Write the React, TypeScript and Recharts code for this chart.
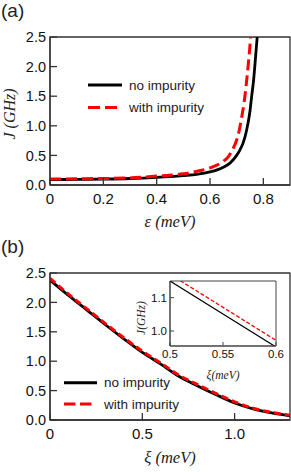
import React from 'react';
import { LineChart, Line, XAxis, YAxis, ReferenceArea, Legend } from 'recharts';

// Panel (a): J vs epsilon
const epsNoImp = [
  { x: 0, y: 0.09 }, { x: 0.1, y: 0.095 }, { x: 0.2, y: 0.1 }, { x: 0.3, y: 0.11 },
  { x: 0.4, y: 0.13 }, { x: 0.5, y: 0.16 }, { x: 0.55, y: 0.18 }, { x: 0.6, y: 0.22 },
  { x: 0.65, y: 0.3 }, { x: 0.675, y: 0.37 }, { x: 0.7, y: 0.5 }, { x: 0.712, y: 0.59 },
  { x: 0.725, y: 0.72 }, { x: 0.7375, y: 0.93 }, { x: 0.75, y: 1.25 }, { x: 0.756, y: 1.49 },
  { x: 0.763, y: 1.75 }, { x: 0.769, y: 2.06 }, { x: 0.777, y: 2.5 }, { x: 0.785, y: 3.0 },
];
const epsWithImp = [
  { x: 0, y: 0.1 }, { x: 0.1, y: 0.105 }, { x: 0.2, y: 0.11 }, { x: 0.3, y: 0.12 },
  { x: 0.4, y: 0.15 }, { x: 0.5, y: 0.19 }, { x: 0.55, y: 0.23 }, { x: 0.6, y: 0.29 },
  { x: 0.65, y: 0.4 }, { x: 0.669, y: 0.48 }, { x: 0.685, y: 0.6 }, { x: 0.7, y: 0.76 },
  { x: 0.71, y: 0.93 }, { x: 0.719, y: 1.15 }, { x: 0.728, y: 1.4 }, { x: 0.735, y: 1.66 },
  { x: 0.745, y: 2.11 }, { x: 0.7525, y: 2.5 }, { x: 0.76, y: 3.0 },
];

// Panel (b): J vs xi
const xiNoImp = [
  { x: 0, y: 2.38 }, { x: 0.1, y: 2.12 }, { x: 0.2, y: 1.87 }, { x: 0.3, y: 1.62 },
  { x: 0.4, y: 1.38 }, { x: 0.5, y: 1.15 }, { x: 0.6, y: 0.95 }, { x: 0.7, y: 0.74 },
  { x: 0.8, y: 0.58 }, { x: 0.9, y: 0.43 }, { x: 1.0, y: 0.29 }, { x: 1.1, y: 0.19 },
  { x: 1.2, y: 0.12 }, { x: 1.3, y: 0.07 },
];
const xiWithImp = [
  { x: 0, y: 2.41 }, { x: 0.1, y: 2.14 }, { x: 0.2, y: 1.89 }, { x: 0.3, y: 1.64 },
  { x: 0.4, y: 1.4 }, { x: 0.5, y: 1.17 }, { x: 0.6, y: 0.97 }, { x: 0.7, y: 0.76 },
  { x: 0.8, y: 0.6 }, { x: 0.9, y: 0.45 }, { x: 1.0, y: 0.31 }, { x: 1.1, y: 0.2 },
  { x: 1.2, y: 0.13 }, { x: 1.3, y: 0.08 },
];

// Inset of panel (b)
const insetNoImp = [{ x: 0.5, y: 1.15 }, { x: 0.6, y: 0.952 }];
const insetWithImp = [{ x: 0.5, y: 1.17 }, { x: 0.6, y: 0.972 }];

const ticksXA = [0, 0.2, 0.4, 0.6, 0.8];
const ticksXB = [0, 0.5, 1.0];
const ticksY = [0, 0.5, 1.0, 1.5, 2.0, 2.5];
const ticksXInset = [0.5, 0.55, 0.6];
const ticksYInset = [1.0, 1.1];

const seriesNames = ['no impurity', 'with impurity'];

const SANS = 'Liberation Sans, Arial, sans-serif';
const SERIF = 'Liberation Serif, Times New Roman, serif';
const AX = '#333';

const fmtX = (v: number) => (v === 0 ? '0' : v.toFixed(1));
const fmtY = (v: number) => v.toFixed(1);

function makeLegend(lineY1: number, lineY2: number, x1: number, x2Black: number, x2Red: number, dash: string, textX: number) {
  return () => (
    <svg width={160} height={50} style={{ display: 'block' }}>
      <line x1={x1} x2={x2Black} y1={lineY1} y2={lineY1} stroke="#000" strokeWidth={3} />
      <text x={textX} y={lineY1} dominantBaseline="central" fontFamily={SANS} fontSize={13.5} fill="#222">{seriesNames[0]}</text>
      <line x1={x1} x2={x2Red} y1={lineY2} y2={lineY2} stroke="#ff0000" strokeWidth={3} strokeDasharray={dash} />
      <text x={textX} y={lineY2} dominantBaseline="central" fontFamily={SANS} fontSize={13.5} fill="#222">{seriesNames[1]}</text>
    </svg>
  );
}

function xLabel(text: string, dy: number, size: number) {
  return (props: any) => {
    const vb = props.viewBox || {};
    return (
      <text x={vb.x + vb.width / 2} y={vb.y + dy} textAnchor="middle" fontFamily={SERIF} fontStyle="italic" fontSize={size} fill="#222">{text}</text>
    );
  };
}

function yLabel(text: string, x: number, cy: number, size: number) {
  return () => (
    <text x={x} y={cy} textAnchor="middle" transform={`rotate(-90, ${x}, ${cy})`} fontFamily={SERIF} fontStyle="italic" fontSize={size} fill="#222">{text}</text>
  );
}

export default function App() {
  return (
    <div style={{ position: 'absolute', left: 0, top: 0, width: 291, height: 472, background: '#fff', overflow: 'hidden' }}>
      <div style={{ position: 'absolute', left: 1, top: 0, fontFamily: SANS, fontSize: 19, color: '#222', lineHeight: '21px' }}>(a)</div>
      <div style={{ position: 'absolute', left: 1, top: 236, fontFamily: SANS, fontSize: 19, color: '#222', lineHeight: '21px' }}>(b)</div>

      {/* Panel (a) */}
      <div style={{ position: 'absolute', left: 0, top: 0 }}>
        <LineChart width={291} height={236} margin={{ top: 37, right: 1, bottom: 0, left: 0 }}>
          <XAxis dataKey="x" type="number" domain={[0, 0.9]} ticks={ticksXA} interval={0} tickFormatter={fmtX}
            height={51} tickSize={-7} tickMargin={15} axisLine={{ stroke: AX, strokeWidth: 1.3 }} tickLine={{ stroke: AX, strokeWidth: 1.3 }}
            tick={{ fontSize: 15, fontFamily: SANS, fill: '#111' }} allowDataOverflow
            label={{ content: xLabel('ε (meV)', 42, 16.5) }} />
          <YAxis type="number" domain={[0, 2.5]} ticks={ticksY} interval={0} tickFormatter={fmtY}
            width={50} tickSize={-7} tickMargin={11} axisLine={{ stroke: AX, strokeWidth: 1.3 }} tickLine={{ stroke: AX, strokeWidth: 1.3 }}
            tick={{ fontSize: 14.5, fontFamily: SANS, fill: '#111' }} allowDataOverflow
            label={{ content: yLabel('J (GHz)', 15, 114, 16) }} />
          <ReferenceArea x1={0} x2={0.9} y1={0} y2={2.5} fill="none" stroke={AX} strokeWidth={1.3} />
          <Line data={epsNoImp} dataKey="y" type="monotone" stroke="#000" strokeWidth={2.8} dot={false} isAnimationActive={false} />
          <Line data={epsWithImp} dataKey="y" type="monotone" stroke="#ff0000" strokeWidth={3} strokeDasharray="11 5" dot={false} isAnimationActive={false} />
          <Legend layout="vertical" align="center" verticalAlign="middle"
            wrapperStyle={{ left: 80, top: 70, width: 160, height: 50 }}
            content={makeLegend(15, 37.5, 8, 42, 37, '12 5', 49)} />
        </LineChart>
      </div>

      {/* Panel (b) */}
      <div style={{ position: 'absolute', left: 0, top: 236 }}>
        <LineChart width={291} height={236} margin={{ top: 37, right: 1, bottom: 0, left: 0 }}>
          <XAxis dataKey="x" type="number" domain={[0, 1.3]} ticks={ticksXB} interval={0} tickFormatter={fmtX}
            height={52} tickSize={-7} tickMargin={15} axisLine={{ stroke: AX, strokeWidth: 1.3 }} tickLine={{ stroke: AX, strokeWidth: 1.3 }}
            tick={{ fontSize: 15, fontFamily: SANS, fill: '#111' }} allowDataOverflow
            label={{ content: xLabel('ξ (meV)', 43, 16.5) }} />
          <YAxis type="number" domain={[0, 2.5]} ticks={ticksY} interval={0} tickFormatter={fmtY}
            width={50} tickSize={-7} tickMargin={11} axisLine={{ stroke: AX, strokeWidth: 1.3 }} tickLine={{ stroke: AX, strokeWidth: 1.3 }}
            tick={{ fontSize: 14.5, fontFamily: SANS, fill: '#111' }} allowDataOverflow
            label={{ content: yLabel('J (GHz)', 15, 351, 16) }} />
          <ReferenceArea x1={0} x2={1.3} y1={0} y2={2.5} fill="none" stroke={AX} strokeWidth={1.3} />
          <Line data={xiNoImp} dataKey="y" type="monotone" stroke="#000" strokeWidth={2.8} dot={false} isAnimationActive={false} />
          <Line data={xiWithImp} dataKey="y" type="monotone" stroke="#ff0000" strokeWidth={3} strokeDasharray="7 4" dot={false} isAnimationActive={false} />
          <Legend layout="vertical" align="center" verticalAlign="middle"
            wrapperStyle={{ left: 56, top: 135, width: 160, height: 50 }}
            content={makeLegend(11.7, 33, 8, 41, 36, '11.5 4.5', 48)} />
        </LineChart>
      </div>

      {/* Inset */}
      <div style={{ position: 'absolute', left: 120, top: 276 }}>
        <LineChart width={166} height={110} margin={{ top: 5, right: 10, bottom: 0, left: 0 }}>
          <XAxis dataKey="x" type="number" domain={[0.5, 0.6]} ticks={ticksXInset} interval={0}
            tickFormatter={(v: number) => String(v)}
            height={40} tickSize={-4} tickMargin={8} axisLine={{ stroke: '#444', strokeWidth: 1 }} tickLine={{ stroke: '#444', strokeWidth: 1 }}
            tick={{ fontSize: 11.5, fontFamily: SANS, fill: '#111' }} allowDataOverflow
            label={{ content: xLabel('ξ(meV)', 33, 11.5) }} />
          <YAxis type="number" domain={[0.955, 1.15]} ticks={ticksYInset} interval={0} tickFormatter={fmtY}
            width={50} tickSize={-4} tickMargin={7} axisLine={{ stroke: '#444', strokeWidth: 1 }} tickLine={{ stroke: '#444', strokeWidth: 1 }}
            tick={{ fontSize: 11.5, fontFamily: SANS, fill: '#111' }} allowDataOverflow
            label={{ content: yLabel('J(GHz)', 145 - 120, 318 - 276, 11.5) }} />
          <ReferenceArea x1={0.5} x2={0.6} y1={0.955} y2={1.15} fill="none" stroke="#444" strokeWidth={1} />
          <Line data={insetNoImp} dataKey="y" type="linear" stroke="#000" strokeWidth={1.2} dot={false} isAnimationActive={false} />
          <Line data={insetWithImp} dataKey="y" type="linear" stroke="#ff0000" strokeWidth={1.3} strokeDasharray="4 2" dot={false} isAnimationActive={false} />
        </LineChart>
      </div>
    </div>
  );
}
